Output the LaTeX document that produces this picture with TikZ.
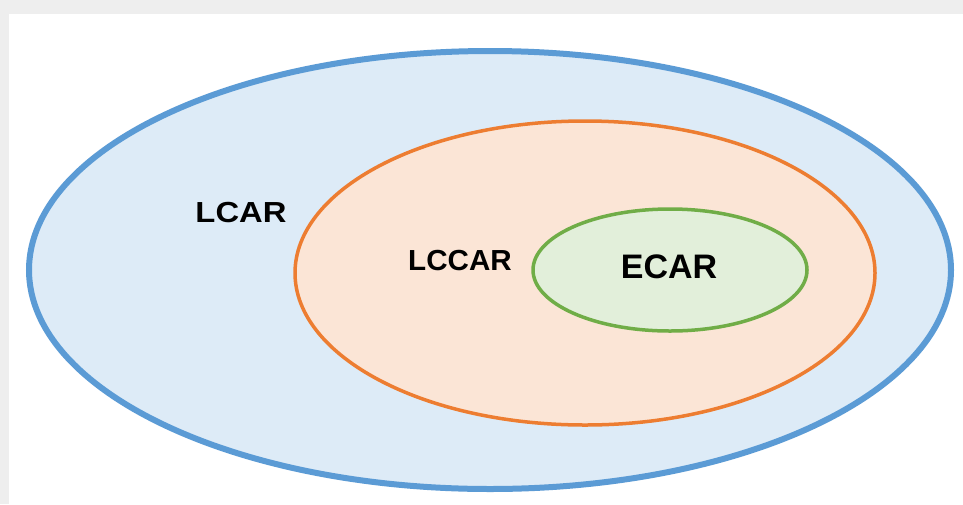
\documentclass[tikz,border=0pt]{standalone}
\usepackage{fontspec}
\setmainfont{Liberation Sans}
\definecolor{bgray}{HTML}{EEEEEE}
\definecolor{bstroke}{HTML}{5B9BD5}
\definecolor{bfill}{HTML}{DDEBF7}
\definecolor{ostroke}{HTML}{ED7D31}
\definecolor{ofill}{HTML}{FBE5D6}
\definecolor{gstroke}{HTML}{70AD47}
\definecolor{gfill}{HTML}{E2EFDA}
\tikzset{
  lbl/.style={font=\bfseries\fontsize{29}{33}\selectfont, text=black, inner sep=0pt},
}
\begin{document}
\begin{tikzpicture}[x=1pt,y=-1pt]
\fill[bgray] (0,0) rectangle (963,504);
\fill[white] (9,14) rectangle (963,504);
\useasboundingbox (0,0) rectangle (963,504);
\draw[bstroke, fill=bfill, line width=6pt] (490,270) ellipse [x radius=461, y radius=219];
\draw[ostroke, fill=ofill, line width=3.5pt] (585,273) ellipse [x radius=290, y radius=152];
\draw[gstroke, fill=gfill, line width=3.5pt] (670,270) ellipse [x radius=137, y radius=61];
\node[lbl, xscale=1.13] (lcar) at (241,213) {LCAR};
\node[lbl, xscale=1.02] (lccar) at (460,261) {LCCAR};
\node[lbl, font=\bfseries\fontsize{34}{38}\selectfont] (ecar) at (669,267) {ECAR};
\end{tikzpicture}
\end{document}
